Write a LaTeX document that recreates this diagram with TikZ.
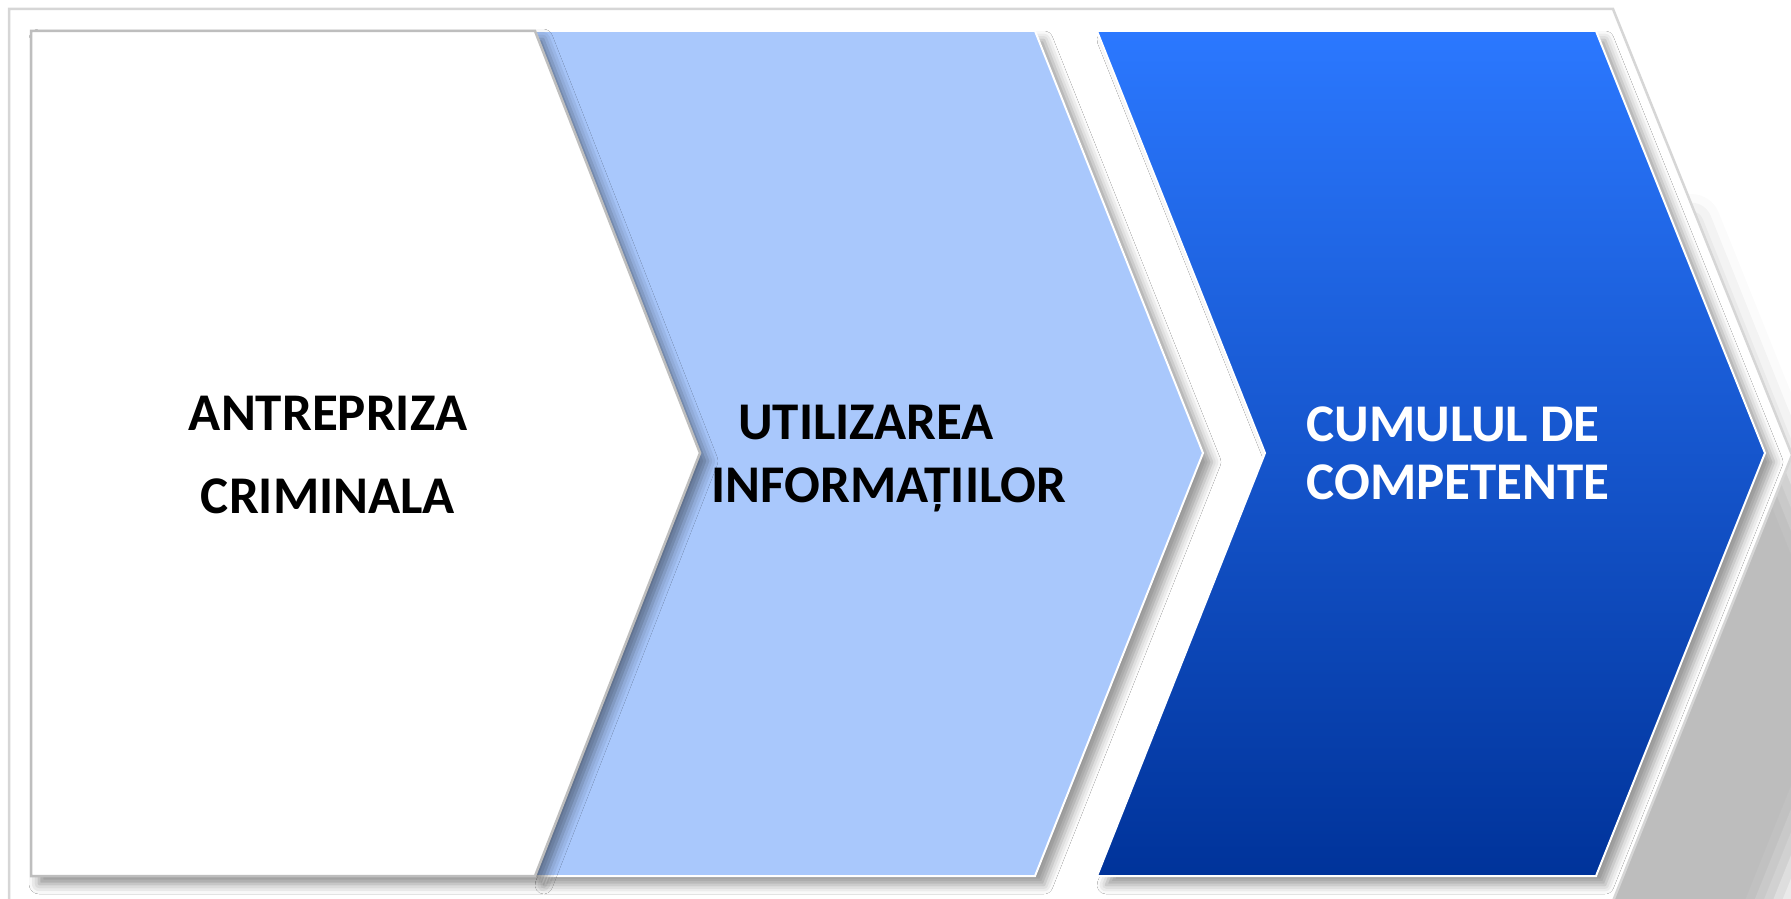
\documentclass[tikz,border=0pt]{standalone}
\usepackage{fontspec}
\setmainfont{Carlito}
\usetikzlibrary{shadows.blur}
\definecolor{stepblue}{RGB}{169,200,252}
\definecolor{deeptop}{RGB}{43,120,255}
\definecolor{deepbottom}{RGB}{0,51,154}
\definecolor{framegray}{RGB}{214,214,214}
\definecolor{edgegray}{RGB}{190,190,190}

\begin{document}
\begin{tikzpicture}[x=1pt, y=-1pt,
    frame/.style={fill=white, draw=framegray, line width=2.5pt},
    stage/.style={draw=white, line width=2pt},
    stagelabel/.style={font=\fontsize{53}{63}\selectfont\bfseries},
    soft/.style={blur shadow={shadow xshift=#1, shadow yshift=-#1, shadow blur radius=9pt, shadow opacity=40}}
  ]
  \useasboundingbox (0,0) rectangle (1791,899);
  \clip (0,0) rectangle (1791,899);

  % Outer frame
  \path[frame, blur shadow={shadow xshift=78pt, shadow yshift=-215pt, shadow blur radius=30pt, shadow opacity=26}]
    (9,9) -- (1613,9) -- (1792,455) -- (1613,901) -- (9,901) -- cycle;

  % Third stage
  \path[stage, top color=deeptop, bottom color=deepbottom, soft=9pt]
    (1097,31) -- (1596,31) -- (1765,453) -- (1596,876) -- (1097,876) -- (1265,453) -- cycle;

  % Second stage
  \path[stage, fill=stepblue, soft=9pt]
    (535,31) -- (1035,31) -- (1203,453) -- (1035,876) -- (535,876) -- (700,453) -- cycle;

  % First stage
  \path[fill=white, draw=edgegray, line width=2.5pt, blur shadow={shadow xshift=8pt, shadow yshift=-8pt, shadow blur radius=10pt, shadow opacity=45}]
    (31,31) -- (535,31) -- (700,453) -- (535,876) -- (31,876) -- cycle;

  % Labels
  \node[stagelabel, align=center, font=\fontsize{53}{83}\selectfont\bfseries] (crime) at (328,455) {ANTREPRIZA\\CRIMINALA};
  \node[stagelabel, align=left] (info) at (889,459) {\hspace*{0.5em}UTILIZAREA\\INFORMAȚIILOR};
  \node[stagelabel, align=left, text=white, anchor=west, font=\fontsize{53}{58}\selectfont\bfseries] (skill) at (1303,453) {CUMULUL DE\\COMPETENTE};
\end{tikzpicture}
\end{document}
